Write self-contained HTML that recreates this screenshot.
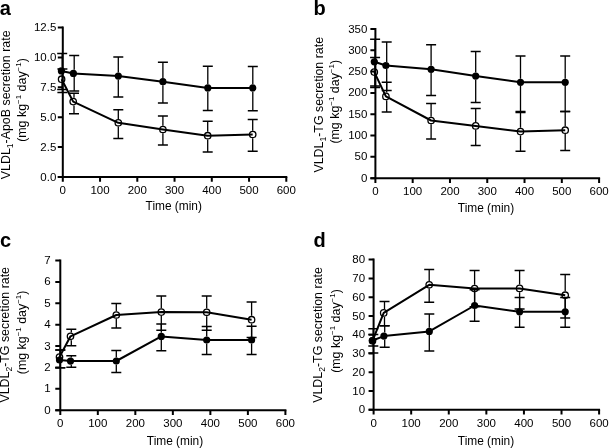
<!DOCTYPE html>
<html><head><meta charset="utf-8"><style>
html,body{margin:0;padding:0;background:#fff;}
body{width:609px;height:448px;overflow:hidden;}
svg{display:block;will-change:transform;}
text{font-family:"Liberation Sans",sans-serif;fill:#000;}
.t{font-size:11.5px;}
.xl{font-size:11.9px;}
.yl{font-size:12.4px;}
.L{font-size:20px;font-weight:bold;}
</style></head><body>
<svg width="609" height="448" viewBox="0 0 609 448">
<path d="M62.8 26.6V177M57.8 177H287.3" stroke="#000" stroke-width="2.0" fill="none"/>
<path d="M57.8 177H62.8M57.8 147.12H62.8M57.8 117.24H62.8M57.8 87.36H62.8M57.8 57.48H62.8M57.8 27.6H62.8" stroke="#000" stroke-width="2.0"/>
<path d="M62.8 177v4.8M100.05 177v4.8M137.3 177v4.8M174.55 177v4.8M211.8 177v4.8M249.05 177v4.8M286.3 177v4.8" stroke="#000" stroke-width="2.0"/>
<text x="56.3" y="180.6" text-anchor="end" class="t">0.0</text>
<text x="56.3" y="150.72" text-anchor="end" class="t">2.5</text>
<text x="56.3" y="120.84" text-anchor="end" class="t">5.0</text>
<text x="56.3" y="90.96" text-anchor="end" class="t">7.5</text>
<text x="56.3" y="61.08" text-anchor="end" class="t">10.0</text>
<text x="56.3" y="31.2" text-anchor="end" class="t">12.5</text>
<text x="62.8" y="193.7" text-anchor="middle" class="t">0</text>
<text x="100.05" y="193.7" text-anchor="middle" class="t">100</text>
<text x="137.3" y="193.7" text-anchor="middle" class="t">200</text>
<text x="174.55" y="193.7" text-anchor="middle" class="t">300</text>
<text x="211.8" y="193.7" text-anchor="middle" class="t">400</text>
<text x="249.05" y="193.7" text-anchor="middle" class="t">500</text>
<text x="286.3" y="193.7" text-anchor="middle" class="t">600</text>
<text x="173.75" y="209.9" text-anchor="middle" class="xl">Time (min)</text>
<text transform="translate(10.3 104.8) rotate(-90)" text-anchor="middle" class="yl">VLDL<tspan baseline-shift="-2.5" font-size="8.5">1</tspan>-ApoB secretion rate</text>
<text transform="translate(25.7 100) rotate(-90)" text-anchor="middle" class="yl">(mg kg<tspan baseline-shift="5" font-size="8">−1</tspan> day<tspan baseline-shift="5" font-size="8">−1</tspan>)</text>
<text x="-0.3" y="14.7" class="L">a</text>
<path d="M62.4 68.9V75.35M62.4 83.05V92.5M74 93.3V97.75M74 105.45V113.8M118.3 109.8V118.95M118.3 126.65V138.4M162.9 116.1V125.65M162.9 133.35V144.9M207.7 121.3V131.85M207.7 139.55V152.1M252.7 119.4V130.65M252.7 138.35V151.2" stroke="#000" stroke-width="1.3" fill="none"/>
<path d="M57.4 68.9h10M57.4 92.5h10M69 93.3h10M69 113.8h10M113.3 109.8h10M113.3 138.4h10M157.9 116.1h10M157.9 144.9h10M202.7 121.3h10M202.7 152.1h10M247.7 119.4h10M247.7 151.2h10" stroke="#000" stroke-width="1.5" fill="none"/>
<path d="M61.6 79.2L73.2 101.6L118.3 122.8L162.9 129.5L207.7 135.7L252.7 134.5" stroke="#000" stroke-width="2.0" fill="none" stroke-linejoin="round"/>
<circle cx="61.6" cy="79.2" r="3.2" fill="none" stroke="#000" stroke-width="1.3"/>
<circle cx="73.2" cy="101.6" r="3.2" fill="none" stroke="#000" stroke-width="1.3"/>
<circle cx="118.3" cy="122.8" r="3.2" fill="none" stroke="#000" stroke-width="1.3"/>
<circle cx="162.9" cy="129.5" r="3.2" fill="none" stroke="#000" stroke-width="1.3"/>
<circle cx="207.7" cy="135.7" r="3.2" fill="none" stroke="#000" stroke-width="1.3"/>
<circle cx="252.7" cy="134.5" r="3.2" fill="none" stroke="#000" stroke-width="1.3"/>
<path d="M62.2 53.5V67.3M62.2 74.5V89.5M74.2 55.5V69.8M74.2 77V90.9M118.3 57.1V72.5M118.3 79.7V96.9M162.9 62.3V78.1M162.9 85.3V103.1M207.8 66.3V84.3M207.8 91.5V110.5M252.8 66.4V84.3M252.8 91.5V110.7" stroke="#000" stroke-width="1.3" fill="none"/>
<path d="M57.2 53.5h10M57.2 89.5h10M69.2 55.5h10M69.2 90.9h10M113.3 57.1h10M113.3 96.9h10M157.9 62.3h10M157.9 103.1h10M202.8 66.3h10M202.8 110.5h10M247.8 66.4h10M247.8 110.7h10" stroke="#000" stroke-width="1.5" fill="none"/>
<path d="M61.4 70.9L73.4 73.4L118.3 76.1L162.9 81.7L207.8 87.9L252.8 87.9" stroke="#000" stroke-width="2.0" fill="none" stroke-linejoin="round"/>
<circle cx="61.4" cy="70.9" r="3.6" fill="#000"/>
<circle cx="73.4" cy="73.4" r="3.6" fill="#000"/>
<circle cx="118.3" cy="76.1" r="3.6" fill="#000"/>
<circle cx="162.9" cy="81.7" r="3.6" fill="#000"/>
<circle cx="207.8" cy="87.9" r="3.6" fill="#000"/>
<circle cx="252.8" cy="87.9" r="3.6" fill="#000"/>
<path d="M375.4 27.9V178.2M370.4 178.2H600.1" stroke="#000" stroke-width="2.0" fill="none"/>
<path d="M370.4 178.2H375.4M370.4 156.87H375.4M370.4 135.54H375.4M370.4 114.21H375.4M370.4 92.89H375.4M370.4 71.56H375.4M370.4 50.23H375.4M370.4 28.9H375.4" stroke="#000" stroke-width="2.0"/>
<path d="M375.4 178.2v4.8M412.68 178.2v4.8M449.97 178.2v4.8M487.25 178.2v4.8M524.53 178.2v4.8M561.82 178.2v4.8M599.1 178.2v4.8" stroke="#000" stroke-width="2.0"/>
<text x="367.4" y="181.8" text-anchor="end" class="t">0</text>
<text x="367.4" y="160.47" text-anchor="end" class="t">50</text>
<text x="367.4" y="139.14" text-anchor="end" class="t">100</text>
<text x="367.4" y="117.81" text-anchor="end" class="t">150</text>
<text x="367.4" y="96.49" text-anchor="end" class="t">200</text>
<text x="367.4" y="75.16" text-anchor="end" class="t">250</text>
<text x="367.4" y="53.83" text-anchor="end" class="t">300</text>
<text x="367.4" y="32.5" text-anchor="end" class="t">350</text>
<text x="375.4" y="194.9" text-anchor="middle" class="t">0</text>
<text x="412.68" y="194.9" text-anchor="middle" class="t">100</text>
<text x="449.97" y="194.9" text-anchor="middle" class="t">200</text>
<text x="487.25" y="194.9" text-anchor="middle" class="t">300</text>
<text x="524.53" y="194.9" text-anchor="middle" class="t">400</text>
<text x="561.82" y="194.9" text-anchor="middle" class="t">500</text>
<text x="599.1" y="194.9" text-anchor="middle" class="t">600</text>
<text x="486" y="211.9" text-anchor="middle" class="xl">Time (min)</text>
<text transform="translate(322.5 104.75) rotate(-90)" text-anchor="middle" class="yl">VLDL<tspan baseline-shift="-2.5" font-size="8.5">1</tspan>-TG secretion rate</text>
<text transform="translate(338.5 101.75) rotate(-90)" text-anchor="middle" class="yl">(mg kg<tspan baseline-shift="5" font-size="8">−1</tspan> day<tspan baseline-shift="5" font-size="8">−1</tspan>)</text>
<text x="313.4" y="14.8" class="L">b</text>
<path d="M375.1 57.4V68.25M375.1 75.95V87.5M386.7 82.3V92.55M386.7 100.25V111.9M431.1 103.4V116.65M431.1 124.35V138.9M475.7 108.4V122.05M475.7 129.75V145.4M520.5 112.4V127.75M520.5 135.45V151.3M565.2 111.4V126.35M565.2 134.05V150.4" stroke="#000" stroke-width="1.3" fill="none"/>
<path d="M370.1 57.4h10M370.1 87.5h10M381.7 82.3h10M381.7 111.9h10M426.1 103.4h10M426.1 138.9h10M470.7 108.4h10M470.7 145.4h10M515.5 112.4h10M515.5 151.3h10M560.2 111.4h10M560.2 150.4h10" stroke="#000" stroke-width="1.5" fill="none"/>
<path d="M374.3 72.1L385.9 96.4L431.1 120.5L475.7 125.9L520.5 131.6L565.2 130.2" stroke="#000" stroke-width="2.0" fill="none" stroke-linejoin="round"/>
<circle cx="374.3" cy="72.1" r="3.2" fill="none" stroke="#000" stroke-width="1.3"/>
<circle cx="385.9" cy="96.4" r="3.2" fill="none" stroke="#000" stroke-width="1.3"/>
<circle cx="431.1" cy="120.5" r="3.2" fill="none" stroke="#000" stroke-width="1.3"/>
<circle cx="475.7" cy="125.9" r="3.2" fill="none" stroke="#000" stroke-width="1.3"/>
<circle cx="520.5" cy="131.6" r="3.2" fill="none" stroke="#000" stroke-width="1.3"/>
<circle cx="565.2" cy="130.2" r="3.2" fill="none" stroke="#000" stroke-width="1.3"/>
<path d="M375.1 39.2V58.2M375.1 65.4V86M386.7 42.1V61.9M386.7 69.1V90.4M431.1 44.8V65.7M431.1 72.9V95.4M475.7 51.4V72.5M475.7 79.7V102.5M520.5 56.1V78.7M520.5 85.9V111.6M565.2 56.1V78.7M565.2 85.9V111.4" stroke="#000" stroke-width="1.3" fill="none"/>
<path d="M370.1 39.2h10M370.1 86h10M381.7 42.1h10M381.7 90.4h10M426.1 44.8h10M426.1 95.4h10M470.7 51.4h10M470.7 102.5h10M515.5 56.1h10M515.5 111.6h10M560.2 56.1h10M560.2 111.4h10" stroke="#000" stroke-width="1.5" fill="none"/>
<path d="M374.3 61.8L385.9 65.5L431.1 69.3L475.7 76.1L520.5 82.3L565.2 82.3" stroke="#000" stroke-width="2.0" fill="none" stroke-linejoin="round"/>
<circle cx="374.3" cy="61.8" r="3.6" fill="#000"/>
<circle cx="385.9" cy="65.5" r="3.6" fill="#000"/>
<circle cx="431.1" cy="69.3" r="3.6" fill="#000"/>
<circle cx="475.7" cy="76.1" r="3.6" fill="#000"/>
<circle cx="520.5" cy="82.3" r="3.6" fill="#000"/>
<circle cx="565.2" cy="82.3" r="3.6" fill="#000"/>
<path d="M60.3 259.5V410.2M55.3 410.2H286.4" stroke="#000" stroke-width="2.0" fill="none"/>
<path d="M55.3 410.2H60.3M55.3 388.81H60.3M55.3 367.43H60.3M55.3 346.04H60.3M55.3 324.66H60.3M55.3 303.27H60.3M55.3 281.89H60.3M55.3 260.5H60.3" stroke="#000" stroke-width="2.0"/>
<path d="M60.3 410.2v4.8M97.82 410.2v4.8M135.33 410.2v4.8M172.85 410.2v4.8M210.37 410.2v4.8M247.88 410.2v4.8M285.4 410.2v4.8" stroke="#000" stroke-width="2.0"/>
<text x="50.6" y="413.8" text-anchor="end" class="t">0</text>
<text x="50.6" y="392.41" text-anchor="end" class="t">1</text>
<text x="50.6" y="371.03" text-anchor="end" class="t">2</text>
<text x="50.6" y="349.64" text-anchor="end" class="t">3</text>
<text x="50.6" y="328.26" text-anchor="end" class="t">4</text>
<text x="50.6" y="306.87" text-anchor="end" class="t">5</text>
<text x="50.6" y="285.49" text-anchor="end" class="t">6</text>
<text x="50.6" y="264.1" text-anchor="end" class="t">7</text>
<text x="60.3" y="426.9" text-anchor="middle" class="t">0</text>
<text x="97.82" y="426.9" text-anchor="middle" class="t">100</text>
<text x="135.33" y="426.9" text-anchor="middle" class="t">200</text>
<text x="172.85" y="426.9" text-anchor="middle" class="t">300</text>
<text x="210.37" y="426.9" text-anchor="middle" class="t">400</text>
<text x="247.88" y="426.9" text-anchor="middle" class="t">500</text>
<text x="285.4" y="426.9" text-anchor="middle" class="t">600</text>
<text x="175" y="445" text-anchor="middle" class="xl">Time (min)</text>
<text transform="translate(9.3 334.8) rotate(-90)" text-anchor="middle" class="yl">VLDL<tspan baseline-shift="-2.5" font-size="8.5">2</tspan>-TG secretion rate</text>
<text transform="translate(25.9 332.4) rotate(-90)" text-anchor="middle" class="yl">(mg kg<tspan baseline-shift="5" font-size="8">−1</tspan> day<tspan baseline-shift="5" font-size="8">−1</tspan>)</text>
<text x="0.1" y="246.6" class="L">c</text>
<path d="M60.3 350V353.15M60.3 360.85V367.8M71.3 329.2V332.45M71.3 340.15V345.7M116.3 303.4V311.15M116.3 318.85V328M161.3 295.9V308.25M161.3 315.95V330.2M206.7 295.9V308.45M206.7 316.15V330.3M251.6 302V315.85M251.6 323.55V337.4" stroke="#000" stroke-width="1.3" fill="none"/>
<path d="M55.3 350h10M55.3 367.8h10M66.3 329.2h10M66.3 345.7h10M111.3 303.4h10M111.3 328h10M156.3 295.9h10M156.3 330.2h10M201.7 295.9h10M201.7 330.3h10M246.6 302h10M246.6 337.4h10" stroke="#000" stroke-width="1.5" fill="none"/>
<path d="M59.5 357L70.5 336.3L116.3 315L161.3 312.1L206.7 312.3L251.6 319.7" stroke="#000" stroke-width="2.0" fill="none" stroke-linejoin="round"/>
<circle cx="59.5" cy="357" r="3.2" fill="none" stroke="#000" stroke-width="1.3"/>
<circle cx="70.5" cy="336.3" r="3.2" fill="none" stroke="#000" stroke-width="1.3"/>
<circle cx="116.3" cy="315" r="3.2" fill="none" stroke="#000" stroke-width="1.3"/>
<circle cx="161.3" cy="312.1" r="3.2" fill="none" stroke="#000" stroke-width="1.3"/>
<circle cx="206.7" cy="312.3" r="3.2" fill="none" stroke="#000" stroke-width="1.3"/>
<circle cx="251.6" cy="319.7" r="3.2" fill="none" stroke="#000" stroke-width="1.3"/>
<path d="M60.3 350V356.4M60.3 363.6V367.8M71.3 355.7V357.5M71.3 364.7V367.3M116.3 350.6V357.4M116.3 364.6V372.6M161.3 323.9V332.8M161.3 340V350.7M206.7 326.4V336.4M206.7 343.6V354.4M251.6 326.3V336.4M251.6 343.6V354.4" stroke="#000" stroke-width="1.3" fill="none"/>
<path d="M55.3 350h10M55.3 367.8h10M66.3 355.7h10M66.3 367.3h10M111.3 350.6h10M111.3 372.6h10M156.3 323.9h10M156.3 350.7h10M201.7 326.4h10M201.7 354.4h10M246.6 326.3h10M246.6 354.4h10" stroke="#000" stroke-width="1.5" fill="none"/>
<path d="M59.5 360L70.5 361.1L116.3 361L161.3 336.4L206.7 340L251.6 340" stroke="#000" stroke-width="2.0" fill="none" stroke-linejoin="round"/>
<circle cx="59.5" cy="360" r="3.6" fill="#000"/>
<circle cx="70.5" cy="361.1" r="3.6" fill="#000"/>
<circle cx="116.3" cy="361" r="3.6" fill="#000"/>
<circle cx="161.3" cy="336.4" r="3.6" fill="#000"/>
<circle cx="206.7" cy="340" r="3.6" fill="#000"/>
<circle cx="251.6" cy="340" r="3.6" fill="#000"/>
<path d="M373.6 258.6V409.8M368.6 409.8H600.1" stroke="#000" stroke-width="2.0" fill="none"/>
<path d="M368.6 409.8H373.6M368.6 391.03H373.6M368.6 372.25H373.6M368.6 353.48H373.6M368.6 334.7H373.6M368.6 315.93H373.6M368.6 297.15H373.6M368.6 278.38H373.6M368.6 259.6H373.6" stroke="#000" stroke-width="2.0"/>
<path d="M373.6 409.8v4.8M411.18 409.8v4.8M448.77 409.8v4.8M486.35 409.8v4.8M523.93 409.8v4.8M561.52 409.8v4.8M599.1 409.8v4.8" stroke="#000" stroke-width="2.0"/>
<text x="365.1" y="413.4" text-anchor="end" class="t">0</text>
<text x="365.1" y="394.63" text-anchor="end" class="t">10</text>
<text x="365.1" y="375.85" text-anchor="end" class="t">20</text>
<text x="365.1" y="357.08" text-anchor="end" class="t">30</text>
<text x="365.1" y="338.3" text-anchor="end" class="t">40</text>
<text x="365.1" y="319.53" text-anchor="end" class="t">50</text>
<text x="365.1" y="300.75" text-anchor="end" class="t">60</text>
<text x="365.1" y="281.98" text-anchor="end" class="t">70</text>
<text x="365.1" y="263.2" text-anchor="end" class="t">80</text>
<text x="373.6" y="426.5" text-anchor="middle" class="t">0</text>
<text x="411.18" y="426.5" text-anchor="middle" class="t">100</text>
<text x="448.77" y="426.5" text-anchor="middle" class="t">200</text>
<text x="486.35" y="426.5" text-anchor="middle" class="t">300</text>
<text x="523.93" y="426.5" text-anchor="middle" class="t">400</text>
<text x="561.52" y="426.5" text-anchor="middle" class="t">500</text>
<text x="599.1" y="426.5" text-anchor="middle" class="t">600</text>
<text x="486" y="445" text-anchor="middle" class="xl">Time (min)</text>
<text transform="translate(322.3 335) rotate(-90)" text-anchor="middle" class="yl">VLDL<tspan baseline-shift="-2.5" font-size="8.5">2</tspan>-TG secretion rate</text>
<text transform="translate(340.2 331) rotate(-90)" text-anchor="middle" class="yl">(mg kg<tspan baseline-shift="5" font-size="8">−1</tspan> day<tspan baseline-shift="5" font-size="8">−1</tspan>)</text>
<text x="313.6" y="246.6" class="L">d</text>
<path d="M373.3 328.8V336.95M373.3 344.65V352.9M384.5 301.6V309.05M384.5 316.75V325.8M429.2 269.5V280.95M429.2 288.65V302.3M474.6 270.4V284.75M474.6 292.45V306.8M519.6 270.5V284.55M519.6 292.25V308.9M565.2 274.6V291.35M565.2 299.05V317.9" stroke="#000" stroke-width="1.3" fill="none"/>
<path d="M368.3 328.8h10M368.3 352.9h10M379.5 301.6h10M379.5 325.8h10M424.2 269.5h10M424.2 302.3h10M469.6 270.4h10M469.6 306.8h10M514.6 270.5h10M514.6 308.9h10M560.2 274.6h10M560.2 317.9h10" stroke="#000" stroke-width="1.5" fill="none"/>
<path d="M372.5 340.8L383.7 312.9L429.2 284.8L474.6 288.6L519.6 288.4L565.2 295.2" stroke="#000" stroke-width="2.0" fill="none" stroke-linejoin="round"/>
<circle cx="372.5" cy="340.8" r="3.2" fill="none" stroke="#000" stroke-width="1.3"/>
<circle cx="383.7" cy="312.9" r="3.2" fill="none" stroke="#000" stroke-width="1.3"/>
<circle cx="429.2" cy="284.8" r="3.2" fill="none" stroke="#000" stroke-width="1.3"/>
<circle cx="474.6" cy="288.6" r="3.2" fill="none" stroke="#000" stroke-width="1.3"/>
<circle cx="519.6" cy="288.4" r="3.2" fill="none" stroke="#000" stroke-width="1.3"/>
<circle cx="565.2" cy="295.2" r="3.2" fill="none" stroke="#000" stroke-width="1.3"/>
<path d="M373.3 334.4V336.9M373.3 344.1V346.1M384.7 325.8V332.5M384.7 339.7V347.2M429.3 314V327.8M429.3 335V350.9M474.6 289.7V301.9M474.6 309.1V321.2M519.6 297.5V308.2M519.6 315.4V327.3M565.2 297.5V308.2M565.2 315.4V327.3" stroke="#000" stroke-width="1.3" fill="none"/>
<path d="M368.3 334.4h10M368.3 346.1h10M379.7 325.8h10M379.7 347.2h10M424.3 314h10M424.3 350.9h10M469.6 289.7h10M469.6 321.2h10M514.6 297.5h10M514.6 327.3h10M560.2 297.5h10M560.2 327.3h10" stroke="#000" stroke-width="1.5" fill="none"/>
<path d="M372.5 340.5L383.9 336.1L429.3 331.4L474.6 305.5L519.6 311.8L565.2 311.8" stroke="#000" stroke-width="2.0" fill="none" stroke-linejoin="round"/>
<circle cx="372.5" cy="340.5" r="3.6" fill="#000"/>
<circle cx="383.9" cy="336.1" r="3.6" fill="#000"/>
<circle cx="429.3" cy="331.4" r="3.6" fill="#000"/>
<circle cx="474.6" cy="305.5" r="3.6" fill="#000"/>
<circle cx="519.6" cy="311.8" r="3.6" fill="#000"/>
<circle cx="565.2" cy="311.8" r="3.6" fill="#000"/>
</svg>
</body></html>
